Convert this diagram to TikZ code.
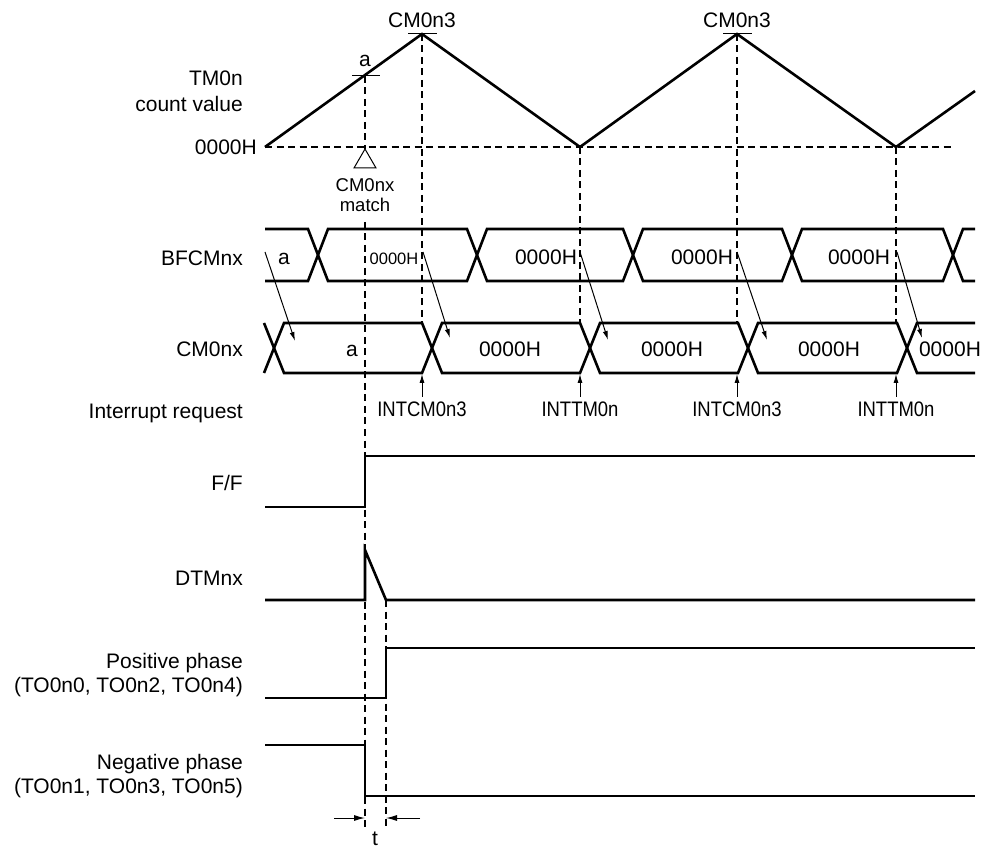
\documentclass[tikz,border=0pt]{standalone}
\usepackage{fontspec}
\setmainfont{Liberation Sans}
\newfontfamily\condfont[FakeStretch=0.88]{Liberation Sans}
\usetikzlibrary{arrows.meta}
\begin{document}
\begin{tikzpicture}[x=1pt,y=-1pt,
  sig/.style={line width=2.6pt},
  dsh/.style={line width=1.1pt, dash pattern=on 7pt off 4.5pt},
  thinline/.style={line width=1pt},
  thinarrow/.style={line width=1pt, -{Latex[length=9pt,width=5pt]}},
  lbl/.style={font=\fontsize{21}{24}\selectfont, inner sep=0pt},
  smalllbl/.style={font=\fontsize{18.5}{21}\selectfont, inner sep=0pt},
  tinylbl/.style={font=\fontsize{16.5}{19}\selectfont, inner sep=0pt},
  intlbl/.style={font=\condfont\fontsize{21}{24}\selectfont, inner sep=0pt}]
\useasboundingbox (0,0) rectangle (986,850);

% ---- dashed guide lines ----
\draw[dsh] (265,147) -- (953,147);
\draw[dsh] (365,76) -- (365,149);
\draw[dsh] (365,222) -- (365,830);
\draw[dsh] (386,600) -- (386,830);
\draw[dsh] (422,34) -- (422,323);
\draw[dsh] (580,147) -- (580,323);
\draw[dsh] (737,34) -- (737,323);
\draw[dsh] (896,147) -- (896,323);

% ---- TM0n count value ----
\draw[sig] (265,147) -- (422,34) -- (580,147) -- (737,34) -- (896,147) -- (975,91);
\draw[thinline] (352,76) -- (380,76);
\draw[thinline] (408,34) -- (437,34);
\draw[thinline] (723,34) -- (752,34);
\node[lbl, anchor=base] (peakA) at (422,28) {CM0n3};
\node[lbl, anchor=base] (peakB) at (737,28) {CM0n3};
\node[lbl, anchor=base] (valA) at (365,67) {a};

% match marker
\draw[thinline] (365,149) -- (376,168) -- (354,168) -- cycle;
\node[smalllbl, anchor=base] (matchA) at (365,192) {CM0nx};
\node[smalllbl, anchor=base] (matchB) at (365,212) {match};

% ---- BFCMnx bus ----
\draw[sig] (265,229) -- (308,229) -- (328,281) -- (467,281) -- (487,229) -- (623,229) -- (643,281) -- (782,281) -- (802,229) -- (943,229) -- (963,281) -- (975,281);
\draw[sig] (265,281) -- (308,281) -- (328,229) -- (467,229) -- (487,281) -- (623,281) -- (643,229) -- (782,229) -- (802,281) -- (943,281) -- (963,229) -- (975,229);
\node[lbl, anchor=base] (bfa) at (284,265) {a};
\node[tinylbl, anchor=base] (bf1) at (394,265) {0000H};
\node[lbl, anchor=base] (bf2) at (546,265) {0000H};
\node[lbl, anchor=base] (bf3) at (702,265) {0000H};
\node[lbl, anchor=base] (bf4) at (859,265) {0000H};

% ---- CM0nx bus ----
\draw[sig] (264,323) -- (284,373) -- (422,373) -- (442,323) -- (580,323) -- (600,373) -- (738,373) -- (758,323) -- (897,323) -- (917,373) -- (975,373);
\draw[sig] (264,373) -- (284,323) -- (422,323) -- (442,373) -- (580,373) -- (600,323) -- (738,323) -- (758,373) -- (897,373) -- (917,323) -- (975,323);
\node[lbl, anchor=base] (cma) at (352,357) {a};
\node[lbl, anchor=base] (cm1) at (510,357) {0000H};
\node[lbl, anchor=base] (cm2) at (672,357) {0000H};
\node[lbl, anchor=base] (cm3) at (829,357) {0000H};
\node[lbl, anchor=base] (cm4) at (950,357) {0000H};

% transfer arrows
\draw[thinarrow] (265,252) -- (295,341);
\draw[thinarrow] (423,252) -- (450,338);
\draw[thinarrow] (580,252) -- (608,340);
\draw[thinarrow] (737,252) -- (767,340);
\draw[thinarrow] (897,252) -- (922,338);

% ---- interrupt requests ----
\draw[thinarrow] (422,397) -- (422,374);
\draw[thinarrow] (580,397) -- (580,374);
\draw[thinarrow] (737,397) -- (737,374);
\draw[thinarrow] (896,397) -- (896,374);
\node[intlbl, anchor=base] (int1) at (422,417) {INTCM0n3};
\node[intlbl, anchor=base] (int2) at (580,417) {INTTM0n};
\node[intlbl, anchor=base] (int3) at (737,417) {INTCM0n3};
\node[intlbl, anchor=base] (int4) at (896,417) {INTTM0n};

% ---- F/F, DTMnx, phases ----
\draw[sig] (265,507) -- (365,507) -- (365,456) -- (975,456);
\draw[sig] (265,600) -- (365,600) -- (365,550) -- (386,600) -- (975,600);
\draw[sig] (265,698) -- (386,698) -- (386,648) -- (975,648);
\draw[sig] (265,745) -- (365,745) -- (365,796) -- (975,796);

% t marker
\coordinate (tL) at (334,818);
\coordinate (tR) at (420,818);
\coordinate (tA) at (365,818);
\coordinate (tB) at (386,818);
\draw[line width=1pt, -{Latex[length=11pt,width=6pt]}] (tL) -- (tA);
\draw[line width=1pt, -{Latex[length=11pt,width=6pt]}] (tR) -- (tB);
\node[lbl, anchor=base] (tlab) at (375,845) {t};

% ---- left labels ----
\node[lbl, anchor=base east] (tmA) at (243,86) {TM0n};
\node[lbl, anchor=base east] (tmB) at (243,112) {count value};
\node[lbl, anchor=base east] (zeroL) at (257,155) {0000H};
\node[lbl, anchor=base east] (bfL) at (243,266) {BFCMnx};
\node[lbl, anchor=base east] (cmL) at (243,357) {CM0nx};
\node[lbl, anchor=base east] (irL) at (243,418) {Interrupt request};
\node[lbl, anchor=base east] (ffL) at (243,490) {F/F};
\node[lbl, anchor=base east] (dtL) at (243,585) {DTMnx};
\node[lbl, anchor=base east] (ppA) at (243,668) {Positive phase};
\node[lbl, anchor=base east] (ppB) at (243,692) {(TO0n0, TO0n2, TO0n4)};
\node[lbl, anchor=base east] (npA) at (243,769) {Negative phase};
\node[lbl, anchor=base east] (npB) at (243,793) {(TO0n1, TO0n3, TO0n5)};
\end{tikzpicture}
\end{document}
